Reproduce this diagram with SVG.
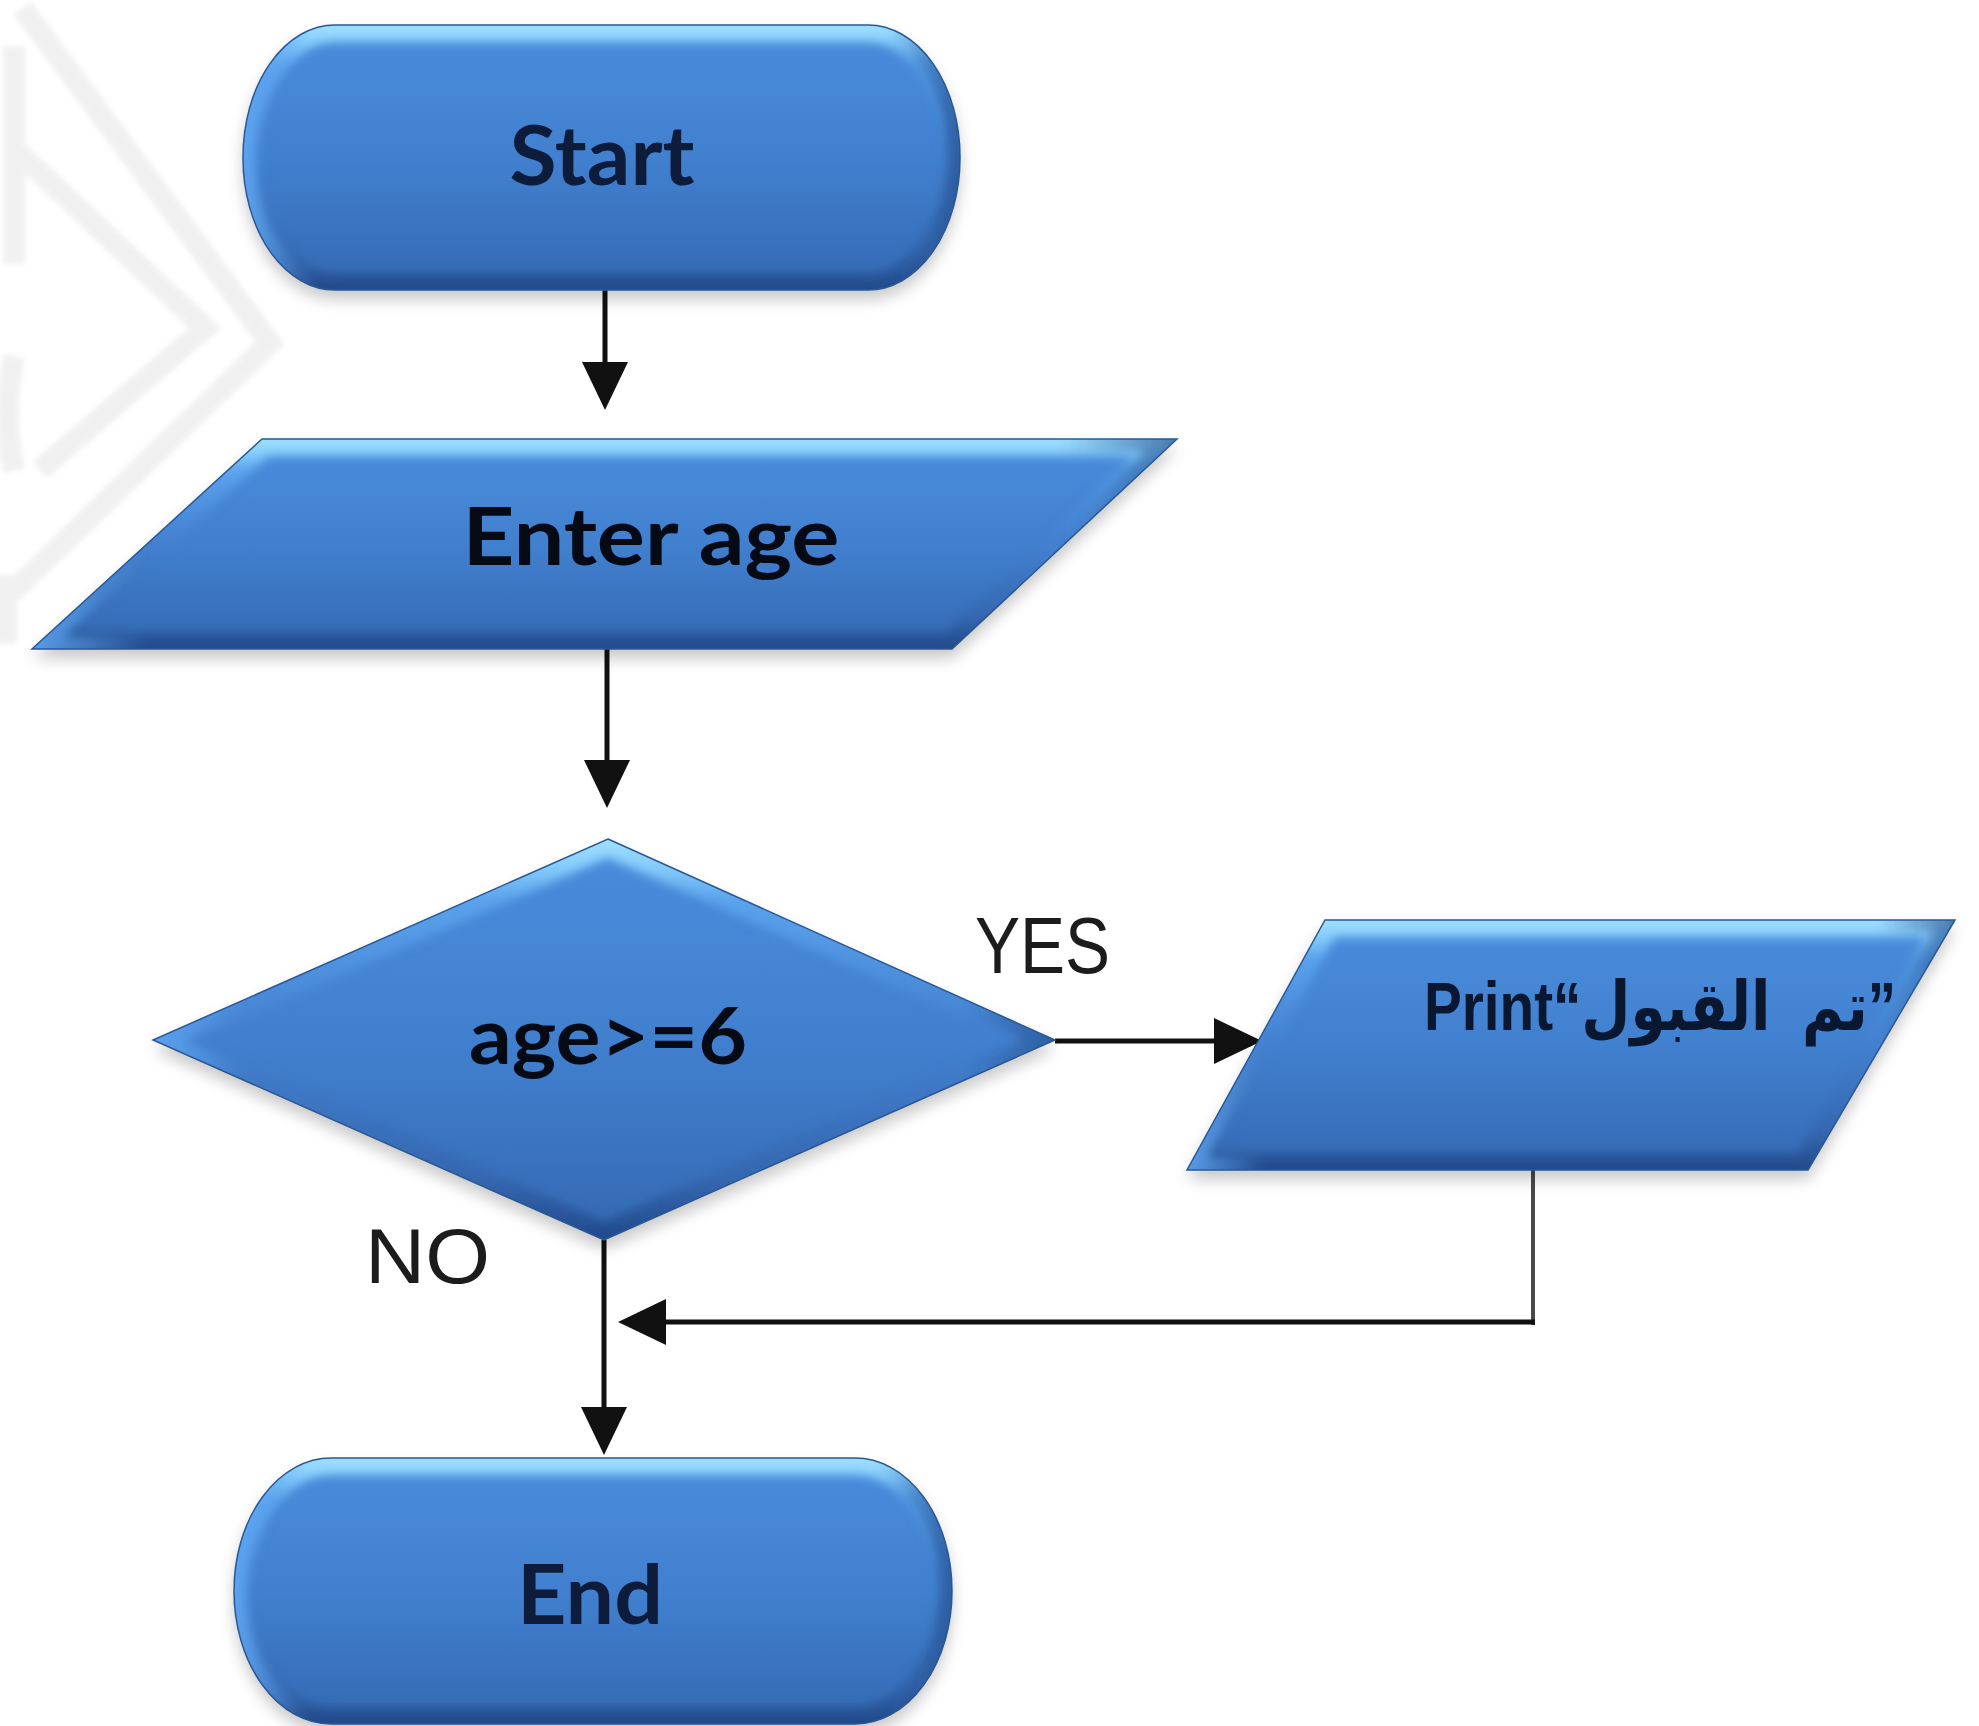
<svg xmlns="http://www.w3.org/2000/svg" width="1979" height="1726" viewBox="0 0 1979 1726">
  <style>
    .wm { fill: none; stroke: #ececec; stroke-width: 22; stroke-linejoin: miter; }
    .outline { fill: none; stroke: #2b5894; stroke-width: 1.5; }
    .bevel { fill: none; stroke: url(#bevelV); stroke-width: 34; }
    .bevelh { fill: none; stroke: url(#bevelH); stroke-width: 26; }
    .body { fill: url(#bodyV); }
    .shadow { fill: #000; }
    .lbl { font-family: Lato, "Liberation Sans", "Open Sans", sans-serif; font-weight: 700; text-anchor: middle; }
    .edge { font-family: "Liberation Sans", Arial, sans-serif; font-weight: 400; fill: #1c1c1c; }
    .conn { fill: none; stroke: #111; stroke-width: 5; }
  </style>
  <defs>
    <linearGradient id="bodyV" x1="0" y1="0" x2="0" y2="1">
      <stop offset="0" stop-color="#4a8ddc"/>
      <stop offset="0.5" stop-color="#4180cf"/>
      <stop offset="1" stop-color="#3569b2"/>
    </linearGradient>
    <linearGradient id="bevelV" x1="0" y1="0" x2="0" y2="1">
      <stop offset="0" stop-color="#a0e0ff"/>
      <stop offset="0.07" stop-color="#84ccfb"/>
      <stop offset="0.15" stop-color="#5aa2ec"/>
      <stop offset="0.45" stop-color="#4584d3"/>
      <stop offset="0.85" stop-color="#3467b0"/>
      <stop offset="1" stop-color="#21498a"/>
    </linearGradient>
    <linearGradient id="bevelH" x1="0" y1="0" x2="1" y2="0">
      <stop offset="0" stop-color="#5fa6f2" stop-opacity="0.9"/>
      <stop offset="0.1" stop-color="#5fa6f2" stop-opacity="0"/>
      <stop offset="0.9" stop-color="#23508f" stop-opacity="0"/>
      <stop offset="1" stop-color="#23508f" stop-opacity="0.7"/>
    </linearGradient>
    <filter id="soft" x="-10%" y="-10%" width="120%" height="120%">
      <feGaussianBlur stdDeviation="5"/>
    </filter>
    <filter id="wmBlur" x="-20%" y="-20%" width="140%" height="140%">
      <feGaussianBlur stdDeviation="2.5"/>
    </filter>
    <filter id="shadow" x="-10%" y="-10%" width="120%" height="130%">
      <feGaussianBlur stdDeviation="8"/>
    </filter>
    <filter id="lineShadow" x="-5%" y="-100%" width="110%" height="300%">
      <feGaussianBlur stdDeviation="2"/>
    </filter>
    <marker id="ah" viewBox="0 0 48 46" refX="28" refY="23" markerWidth="48" markerHeight="46" markerUnits="userSpaceOnUse" orient="auto">
      <path d="M0,0 L48,23 L0,46 z" fill="#111"/>
    </marker>
    <rect id="shStart" x="243" y="25" width="717" height="265" rx="92" ry="132"/>
    <rect id="shEnd" x="234" y="1458" width="718" height="266" rx="97" ry="133"/>
    <polygon id="shInput" points="262,439 1177,439 952,649 32,649"/>
    <polygon id="shDec" points="608,839 1055,1040 604,1240 153,1040"/>
    <polygon id="shPrint" points="1325,920 1955,920 1808,1170 1187,1170"/>
    <clipPath id="cStart"><use href="#shStart"/></clipPath>
    <clipPath id="cEnd"><use href="#shEnd"/></clipPath>
    <clipPath id="cInput"><use href="#shInput"/></clipPath>
    <clipPath id="cDec"><use href="#shDec"/></clipPath>
    <clipPath id="cPrint"><use href="#shPrint"/></clipPath>
  </defs>

  <rect x="0" y="0" width="1979" height="1726" fill="#ffffff"/>

  <g id="watermark" opacity="0.75" filter="url(#wmBlur)">
    <polyline class="wm" points="22,8 270,343 4,600"/>
    <polyline class="wm" points="16,150 205,328 40,470"/>
    <line class="wm" x1="14" y1="46" x2="14" y2="264"/>
    <path class="wm" d="M14,356 Q2,414 14,471"/>
    <line class="wm" x1="6" y1="575" x2="6" y2="644"/>
  </g>

  <g id="connectors">
    <line class="conn" x1="605" y1="290" x2="605" y2="390" marker-end="url(#ah)"/>
    <line class="conn" x1="607" y1="649" x2="607" y2="788" marker-end="url(#ah)"/>
    <line class="conn" x1="1055" y1="1041" x2="1242" y2="1041" marker-end="url(#ah)"/>
    <line class="conn" x1="604" y1="1240" x2="604" y2="1435" marker-end="url(#ah)" stroke-width="4"/>
    <line x1="1533" y1="1170" x2="1533" y2="1325" stroke="#4a4a4a" stroke-width="4"/>
    <line x1="1533" y1="1327" x2="650" y2="1327" stroke="#9a9a9a" stroke-width="6" filter="url(#lineShadow)"/>
    <line class="conn" x1="1535" y1="1322" x2="638" y2="1322" stroke-width="8" marker-end="url(#ah)"/>
  </g>

  <g id="node-start">
    <use href="#shStart" class="shadow" transform="translate(0,9)" opacity="0.22" filter="url(#shadow)"/>
    <use href="#shStart" class="body"/>
    <g clip-path="url(#cStart)">
      <use href="#shStart" class="bevel" filter="url(#soft)"/>
      <use href="#shStart" class="bevelh" filter="url(#soft)"/>
    </g>
    <use href="#shStart" class="outline"/>
    <text class="lbl" x="602" y="185" font-size="82" fill="#0c1c3a" textLength="185" lengthAdjust="spacingAndGlyphs">Start</text>
  </g>

  <g id="node-input">
    <use href="#shInput" class="shadow" transform="translate(0,9)" opacity="0.22" filter="url(#shadow)"/>
    <use href="#shInput" class="body"/>
    <g clip-path="url(#cInput)">
      <use href="#shInput" class="bevel" filter="url(#soft)"/>
      <use href="#shInput" class="bevelh" filter="url(#soft)"/>
    </g>
    <use href="#shInput" class="outline"/>
    <text class="lbl" x="651" y="565" font-size="80" fill="#050a14" textLength="377" lengthAdjust="spacingAndGlyphs">Enter age</text>
  </g>

  <g id="node-decision">
    <use href="#shDec" class="shadow" transform="translate(0,9)" opacity="0.22" filter="url(#shadow)"/>
    <use href="#shDec" class="body"/>
    <g clip-path="url(#cDec)">
      <use href="#shDec" class="bevel" filter="url(#soft)"/>
      <use href="#shDec" class="bevelh" filter="url(#soft)"/>
    </g>
    <use href="#shDec" class="outline"/>
    <text class="lbl" x="608" y="1064" font-size="78" fill="#050a14" textLength="278" lengthAdjust="spacingAndGlyphs">age&gt;=6</text>
  </g>

  <g id="node-print">
    <use href="#shPrint" class="shadow" transform="translate(0,9)" opacity="0.22" filter="url(#shadow)"/>
    <use href="#shPrint" class="body"/>
    <g clip-path="url(#cPrint)">
      <use href="#shPrint" class="bevel" filter="url(#soft)"/>
      <use href="#shPrint" class="bevelh" filter="url(#soft)"/>
    </g>
    <use href="#shPrint" class="outline"/>
    <text x="1424" y="1030" style="white-space:pre" font-family="'Liberation Sans', 'DejaVu Sans', sans-serif" font-weight="700" font-size="68" fill="#0a1730" textLength="472" lengthAdjust="spacingAndGlyphs">Print“تم  القبول”</text>
  </g>

  <g id="node-end">
    <use href="#shEnd" class="shadow" transform="translate(0,9)" opacity="0.22" filter="url(#shadow)"/>
    <use href="#shEnd" class="body"/>
    <g clip-path="url(#cEnd)">
      <use href="#shEnd" class="bevel" filter="url(#soft)"/>
      <use href="#shEnd" class="bevelh" filter="url(#soft)"/>
    </g>
    <use href="#shEnd" class="outline"/>
    <text class="lbl" x="590" y="1624" font-size="82" fill="#0c1c3a" textLength="146" lengthAdjust="spacingAndGlyphs">End</text>
  </g>

  <g id="edge-labels">
    <text class="edge" x="975" y="973" font-size="80" textLength="135" lengthAdjust="spacingAndGlyphs">YES</text>
    <text class="edge" x="365" y="1283" font-size="78" textLength="125" lengthAdjust="spacingAndGlyphs">NO</text>
  </g>
</svg>
